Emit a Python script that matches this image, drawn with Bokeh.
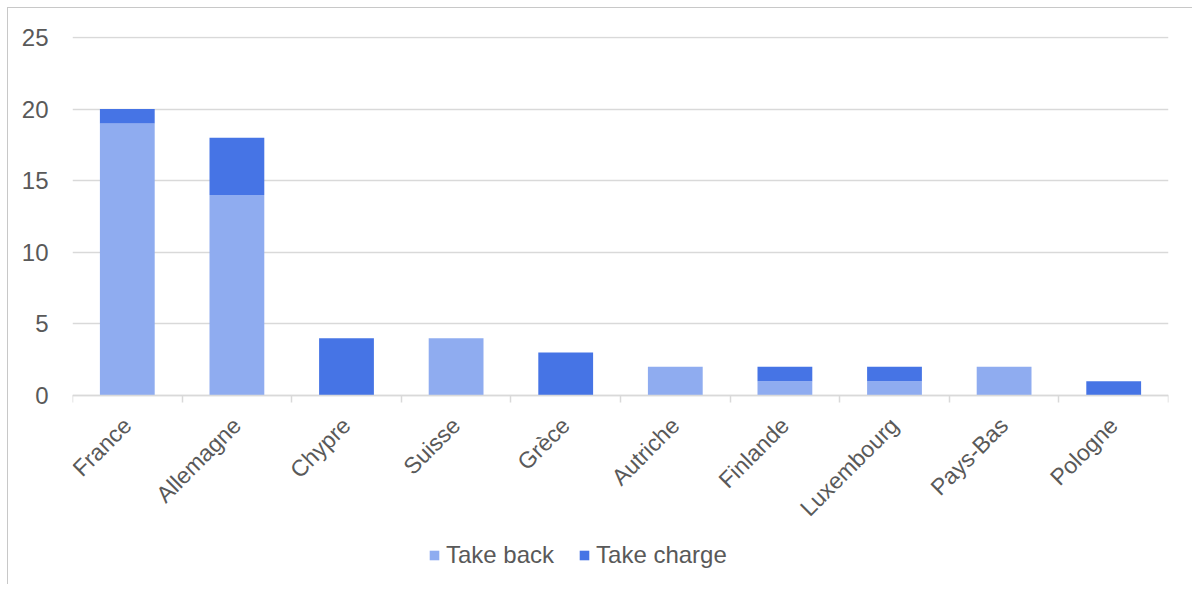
from math import pi
from bokeh.plotting import figure
from bokeh.models import ColumnDataSource, FixedTicker, Legend, LegendItem, Range1d
from bokeh.embed import file_html
from bokeh.resources import INLINE

countries = ["France", "Allemagne", "Chypre", "Suisse", "Grèce", "Autriche",
             "Finlande", "Luxembourg", "Pays-Bas", "Pologne"]
take_back = [19, 14, 0, 4, 0, 2, 1, 1, 2, 0]
take_charge = [1, 4, 4, 0, 3, 0, 1, 1, 0, 1]
y_ticks = [0, 5, 10, 15, 20, 25]

FONT = "Liberation Sans"
TXT = "#595959"
C_BACK = "#8FACF0"
C_CHARGE = "#4674E5"

xs = [i + 0.5 for i in range(len(countries))]
tops_back = take_back
tops_charge = [b + c for b, c in zip(take_back, take_charge)]
src = ColumnDataSource(dict(x=xs, back=take_back, charge=take_charge,
                            top_back=tops_back, top_charge=tops_charge))

# frame extends below zero so the legend (drawn in the frame) sits under the axis labels
p = figure(frame_width=1096, frame_height=548, output_backend="svg", toolbar_location=None,
           x_range=Range1d(0, len(countries)), y_range=Range1d(-13.2, 25.07),
           min_border_left=64, min_border_top=28, min_border_right=24,
           min_border_bottom=0)
p.styles = {"border-left": "1px solid #c8c8c8", "border-top": "1px solid #c8c8c8",
            "margin-left": "7px", "margin-top": "7px"}
p.outline_line_color = None
p.background_fill_color = "white"

r1 = p.vbar(x="x", bottom=0, top="top_back", width=0.5, source=src,
            fill_color=C_BACK, line_color=None)
r2 = p.vbar(x="x", bottom="top_back", top="top_charge", width=0.5, source=src,
            fill_color=C_CHARGE, line_color=None)

p.xaxis.fixed_location = 0
p.xaxis.ticker = FixedTicker(ticks=xs, minor_ticks=list(range(len(countries) + 1)))
p.xaxis.major_label_overrides = {x: c for x, c in zip(xs, countries)}
p.xaxis.major_label_orientation = pi / 4
p.xaxis.major_tick_line_color = None
p.xaxis.minor_tick_line_color = "#d9d9d9"
p.xaxis.minor_tick_line_width = 1.5
p.xaxis.minor_tick_out = 7
p.xaxis.minor_tick_in = 0
p.xaxis.axis_line_color = "#d9d9d9"
p.xaxis.axis_line_width = 1.5
p.xaxis.major_label_text_font = FONT
p.xaxis.major_label_text_font_size = "23px"
p.xaxis.major_label_text_color = TXT
p.xaxis.major_label_standoff = 19

p.yaxis.ticker = FixedTicker(ticks=y_ticks)
p.yaxis.axis_line_color = None
p.yaxis.major_tick_line_color = None
p.yaxis.minor_tick_line_color = None
p.yaxis.major_label_text_font = FONT
p.yaxis.major_label_text_font_size = "24px"
p.yaxis.major_label_text_color = TXT
p.yaxis.major_label_standoff = 18

p.xgrid.grid_line_color = None
p.ygrid.ticker = FixedTicker(ticks=y_ticks)
p.ygrid.grid_line_color = "#d9d9d9"
p.ygrid.grid_line_width = 1.5

legend = Legend(items=[LegendItem(label="Take back", renderers=[r1]),
                       LegendItem(label="Take charge", renderers=[r2])],
                orientation="horizontal", location=(356, 15),
                label_text_font=FONT, label_text_font_size="24px",
                label_text_color=TXT, glyph_width=12, glyph_height=12,
                label_standoff=6, spacing=24, border_line_color=None,
                background_fill_alpha=0, margin=0, padding=5)
p.add_layout(legend, "center")

open("out.html", "w").write(file_html(p, INLINE))
